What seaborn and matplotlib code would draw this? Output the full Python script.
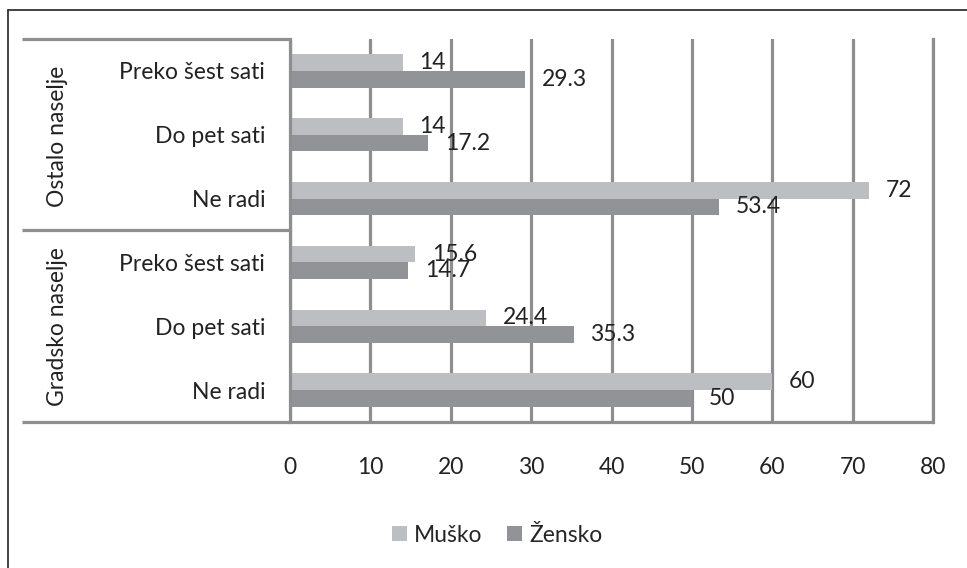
import matplotlib
matplotlib.use("Agg")
import matplotlib.pyplot as plt
from matplotlib.lines import Line2D
from matplotlib.patches import Patch
import matplotlib.transforms as mtrans
import seaborn as sns
import pandas as pd

# ---- data ----
groups = ["Ostalo naselje", "Gradsko naselje"]
activities = ["Preko šest sati", "Do pet sati", "Ne radi"]
series = ["Muško", "Žensko"]
musko = [14, 14, 72, 15.6, 24.4, 60]      # Ostalo x3, Gradsko x3
zensko = [29.3, 17.2, 53.4, 14.7, 35.3, 50]
x_ticks = [0, 10, 20, 30, 40, 50, 60, 70, 80]

colors = {"Muško": "#BDBEC2", "Žensko": "#929396"}
grid_c = "#8E8E90"
txt_c = "#222222"
FS = 16.5

keys = [f"{g}|{a}" for g in groups for a in activities]
rows = []
for k, m, z in zip(keys, musko, zensko):
    rows.append({"cat": k, "spol": series[0], "val": m})
    rows.append({"cat": k, "spol": series[1], "val": z})
df = pd.DataFrame(rows)

sns.set_theme(style="white")
plt.rcParams["font.family"] = ["Lato", "DejaVu Sans"]

W, H = 967, 568
fig = plt.figure(figsize=(W / 100, H / 100), dpi=100)

def fx(px):
    return px / W

def fy(py):
    return 1 - py / H

left, right, top, bottom = 290, 933, 39, 422
ax = fig.add_axes([fx(left), fy(bottom), fx(right) - fx(left), (bottom - top) / H])

sns.barplot(data=df, y="cat", x="val", hue="spol", order=keys, hue_order=series,
            palette=colors, orient="h", width=0.52, ax=ax, legend=False,
            saturation=1, edgecolor="none", linewidth=0)

ax.set_xlim(0, 80)
ax.set_ylim(len(keys) - 0.5, -0.5)
ax.set_xticks(x_ticks)
ax.set_xticklabels([str(t) for t in x_ticks], fontsize=FS, color=txt_c)
ax.set_yticks(range(len(keys)))
ax.set_yticklabels(activities * len(groups), fontsize=FS, color=txt_c)
ax.tick_params(axis="x", length=0, pad=25)
ax.tick_params(axis="y", length=0, pad=18)
ax.set_xlabel("")
ax.set_ylabel("")
ax.set_axisbelow(True)
ax.grid(axis="x", color=grid_c, linewidth=2.3)
ax.grid(axis="y", visible=False)
for s in ["top", "bottom"]:
    ax.spines[s].set_visible(False)
for s in ["left", "right"]:
    ax.spines[s].set_color(grid_c)
    ax.spines[s].set_linewidth(2.3)

shift = mtrans.ScaledTranslation(0, -3 / 100, fig.dpi_scale_trans)
for cont in ax.containers:
    labels = ax.bar_label(cont, fmt="%g", padding=12, fontsize=FS, color=txt_c)
    for t in labels:
        t.set_transform(t.get_transform() + shift)

# category frame lines in label area
lk = dict(color=grid_c, linewidth=2.3, solid_capstyle="butt", transform=fig.transFigure)
fig.add_artist(Line2D([fx(22), fx(left)], [fy(top), fy(top)], **lk))
fig.add_artist(Line2D([fx(22), fx(left)], [fy(230), fy(230)], **lk))
fig.add_artist(Line2D([fx(22), fx(right + 1)], [fy(bottom), fy(bottom)], **lk))

# group labels
fig.text(fx(57), fy(136), groups[0], rotation=90, ha="center", va="center",
         fontsize=FS, color=txt_c)
fig.text(fx(57), fy(327), groups[1], rotation=90, ha="center", va="center",
         fontsize=FS, color=txt_c)

# outer frame (left & top only visible)
fk = dict(color="#333333", linewidth=1.3, transform=fig.transFigure)
fig.add_artist(Line2D([fx(8), fx(8)], [fy(10), 0], **fk))
fig.add_artist(Line2D([fx(8), 1], [fy(10), fy(10)], **fk))

handles = [Patch(facecolor=colors[s], edgecolor="none", label=s) for s in series]
fig.legend(handles=handles, loc="center", bbox_to_anchor=(fx(497), fy(535)),
           ncol=2, frameon=False, fontsize=FS, handlelength=0.65, handleheight=0.65,
           handletextpad=0.3, columnspacing=1.1, borderpad=0, borderaxespad=0)

fig.savefig("out.png", dpi=100)
